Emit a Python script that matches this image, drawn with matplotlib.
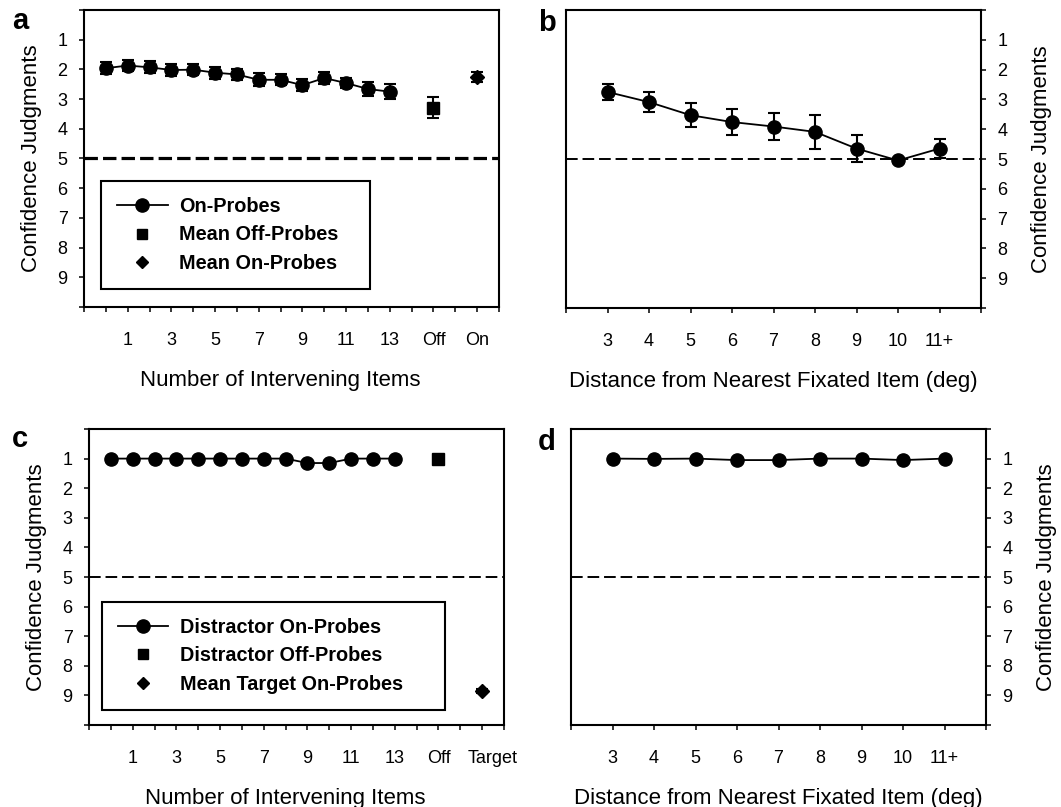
import matplotlib
matplotlib.use('Agg')
import matplotlib.pyplot as plt
from matplotlib.lines import Line2D
from matplotlib.transforms import ScaledTranslation

plt.rcParams['font.family'] = ['Liberation Sans', 'DejaVu Sans']

# ---------------- data ----------------
# Panel a: target on-probes by number of intervening items (0..13)
a_on_mean = [1.96, 1.87, 1.93, 2.02, 2.01, 2.11, 2.17, 2.35, 2.35, 2.53, 2.29, 2.46, 2.66, 2.75]
a_on_err = [0.20, 0.18, 0.20, 0.20, 0.18, 0.20, 0.20, 0.22, 0.18, 0.20, 0.20, 0.18, 0.22, 0.26]
a_off_mean = [3.29]
a_off_err = [0.36]
a_meanon_mean = [2.25]
a_meanon_err = [0.17]
a_item_labels = ['1', '3', '5', '7', '9', '11', '13']
a_extra_labels = ['Off', 'On']
a_legend = ['On-Probes', 'Mean Off-Probes', 'Mean On-Probes']

# Panel b: target on-probes by distance
b_categories = ['3', '4', '5', '6', '7', '8', '9', '10', '11+']
b_mean = [2.75, 3.09, 3.53, 3.76, 3.91, 4.09, 4.65, 5.05, 4.65]
b_err = [0.26, 0.33, 0.40, 0.45, 0.45, 0.56, 0.46, 0.0, 0.33]

# Panel c: distractor on-probes by number of intervening items (0..13)
c_on_mean = [1.0, 1.0, 1.0, 1.0, 1.0, 1.0, 1.0, 1.0, 1.0, 1.15, 1.15, 1.0, 1.0, 1.0]
c_on_err = [0.0, 0.0, 0.0, 0.0, 0.0, 0.0, 0.0, 0.0, 0.0, 0.08, 0.08, 0.0, 0.0, 0.0]
c_off_mean = [1.02]
c_off_err = [0.05]
c_target_mean = [8.86]
c_target_err = [0.06]
c_item_labels = ['1', '3', '5', '7', '9', '11', '13']
c_extra_labels = ['Off', 'Target']
c_legend = ['Distractor On-Probes', 'Distractor Off-Probes', 'Mean Target On-Probes']

# Panel d: distractor on-probes by distance
d_categories = ['3', '4', '5', '6', '7', '8', '9', '10', '11+']
d_mean = [1.0, 1.01, 1.0, 1.05, 1.05, 1.0, 1.0, 1.05, 1.0]

chance_level = 5
conf_levels = [1, 2, 3, 4, 5, 6, 7, 8, 9]

ylabel = 'Confidence Judgments'
xlabel_items = 'Number of Intervening Items'
xlabel_dist = 'Distance from Nearest Fixated Item (deg)'

# ---------------- style ----------------
W, H = 1061, 807
fig = plt.figure(figsize=(W / 100, H / 100), dpi=100)

TICK_FS = 13
LABEL_FS = 16
LEG_FS = 14.3
MS = 9.5
EB = dict(color='black', elinewidth=1.5, capsize=4, capthick=1.5)


def box(l, t, r, b):
    return [l / W, 1 - b / H, (r - l) / W, (b - t) / H]


def style_axes(ax, n_slots, labels_at, labels, side='left'):
    ax.set_ylim(conf_levels[-1] + 1, conf_levels[0] - 1)
    yt = [conf_levels[0] - 1] + conf_levels + [conf_levels[-1] + 1]
    ax.set_yticks(yt)
    ax.set_yticklabels([''] + [str(v) for v in conf_levels] + [''])
    ax.set_xlim(-1, n_slots)
    ax.set_xticks(range(-1, n_slots + 1))
    tl = [''] * (n_slots + 2)
    for p, s in zip(labels_at, labels):
        tl[p + 1] = s
    ax.set_xticklabels(tl)
    ax.tick_params(direction='out', length=3.8, width=1.1, labelsize=TICK_FS, colors='black')
    ax.tick_params(axis='x', pad=14)
    ax.tick_params(axis='y', pad=8)
    for s in ax.spines.values():
        s.set_linewidth(1.5)
        s.set_color('black')
    if side == 'right':
        ax.yaxis.tick_right()
        ax.yaxis.set_label_position('right')
        ax.set_ylabel(ylabel, fontsize=LABEL_FS, labelpad=17)
    else:
        ax.set_ylabel(ylabel, fontsize=LABEL_FS, labelpad=11)


def legend(ax, labels, x0, top, width, height):
    handles = [
        Line2D([], [], color='black', marker='o', ms=MS, lw=1.3),
        Line2D([], [], color='black', marker='s', ms=7.5, ls='none'),
        Line2D([], [], color='black', marker='D', ms=6.5, ls='none'),
    ]
    leg = ax.legend(handles, labels, loc='upper left', mode='expand',
                    bbox_to_anchor=(x0, top - height, width, height),
                    borderaxespad=0, prop=dict(weight='bold', size=LEG_FS),
                    handlelength=2.55, handletextpad=0.6, labelspacing=0.48,
                    borderpad=0.8, fancybox=False, framealpha=1)
    leg.get_frame().set_edgecolor('black')
    leg.get_frame().set_linewidth(1.5)


# ---------------- panel a ----------------
axa = fig.add_axes(box(84, 10, 499, 307))
n = len(a_on_mean)
xs = list(range(n))
x_off, x_on = n + 1, n + 3
axa.axhline(chance_level, color='black', lw=2.3, dashes=(4.2, 1.6))
axa.errorbar(xs, a_on_mean, yerr=a_on_err, fmt='-o', ms=MS, lw=1.3, **EB)
axa.errorbar([x_off], a_off_mean, yerr=a_off_err, fmt='s', ms=8, **EB)
axa.errorbar([x_on], a_meanon_mean, yerr=a_meanon_err, fmt='D', ms=7, **EB)
style_axes(axa, n + 4, list(range(1, n, 2)) + [x_off, x_on], a_item_labels + a_extra_labels)
axa.set_xlabel(xlabel_items, fontsize=LABEL_FS, labelpad=15)
axa.xaxis.label.set_x(0.5 - 11 / 415)
legend(axa, a_legend, 0.041, 0.424, 0.648, 0.36)

# ---------------- panel b ----------------
axb = fig.add_axes(box(566, 10, 981, 308))
xb = list(range(len(b_mean)))
axb.axhline(chance_level, color='black', lw=1.4, dashes=(6, 2.5))
axb.errorbar(xb, b_mean, yerr=b_err, fmt='-o', ms=MS, lw=1.3, **EB)
style_axes(axb, len(b_mean), xb, b_categories, side='right')
axb.set_xlabel(xlabel_dist, fontsize=LABEL_FS, labelpad=15)

# ---------------- panel c ----------------
axc = fig.add_axes(box(89, 429, 504, 725))
n = len(c_on_mean)
xs = list(range(n))
x_off, x_tg = n + 1, n + 3
axc.axhline(chance_level, color='black', lw=1.4, dashes=(6, 2.5))
axc.errorbar(xs, c_on_mean, yerr=c_on_err, fmt='-o', ms=MS, lw=1.3, **EB)
axc.errorbar([x_off], c_off_mean, yerr=c_off_err, fmt='s', ms=8, **EB)
axc.errorbar([x_tg], c_target_mean, yerr=c_target_err, fmt='D', ms=7, **EB)
style_axes(axc, n + 4, list(range(1, n, 2)) + [x_off, x_tg], c_item_labels + c_extra_labels)
axc.set_xlabel(xlabel_items, fontsize=LABEL_FS, labelpad=15)
axc.xaxis.label.set_x(0.5 - 11 / 415)
legend(axc, c_legend, 0.031, 0.416, 0.827, 0.365)
# the last category label sits slightly right of its tick in the original
lbl = axc.get_xticklabels()[x_tg + 1]
lbl.set_transform(lbl.get_transform() + ScaledTranslation(10 / 100, 0, fig.dpi_scale_trans))

# ---------------- panel d ----------------
axd = fig.add_axes(box(571, 429, 986, 725))
xd = list(range(len(d_mean)))
axd.axhline(chance_level, color='black', lw=1.4, dashes=(6, 2.5))
axd.plot(xd, d_mean, '-o', color='black', ms=MS, lw=1.3)
style_axes(axd, len(d_mean), xd, d_categories, side='right')
axd.set_xlabel(xlabel_dist, fontsize=LABEL_FS, labelpad=15)

# panel letters
for letter, x, y in [('a', 12, 29), ('b', 538, 31), ('c', 12, 447), ('d', 538, 450)]:
    fig.text(x / W, 1 - y / H, letter, fontsize=21, fontweight='bold', va='baseline', ha='left')

fig.savefig('out.png', dpi=100)
